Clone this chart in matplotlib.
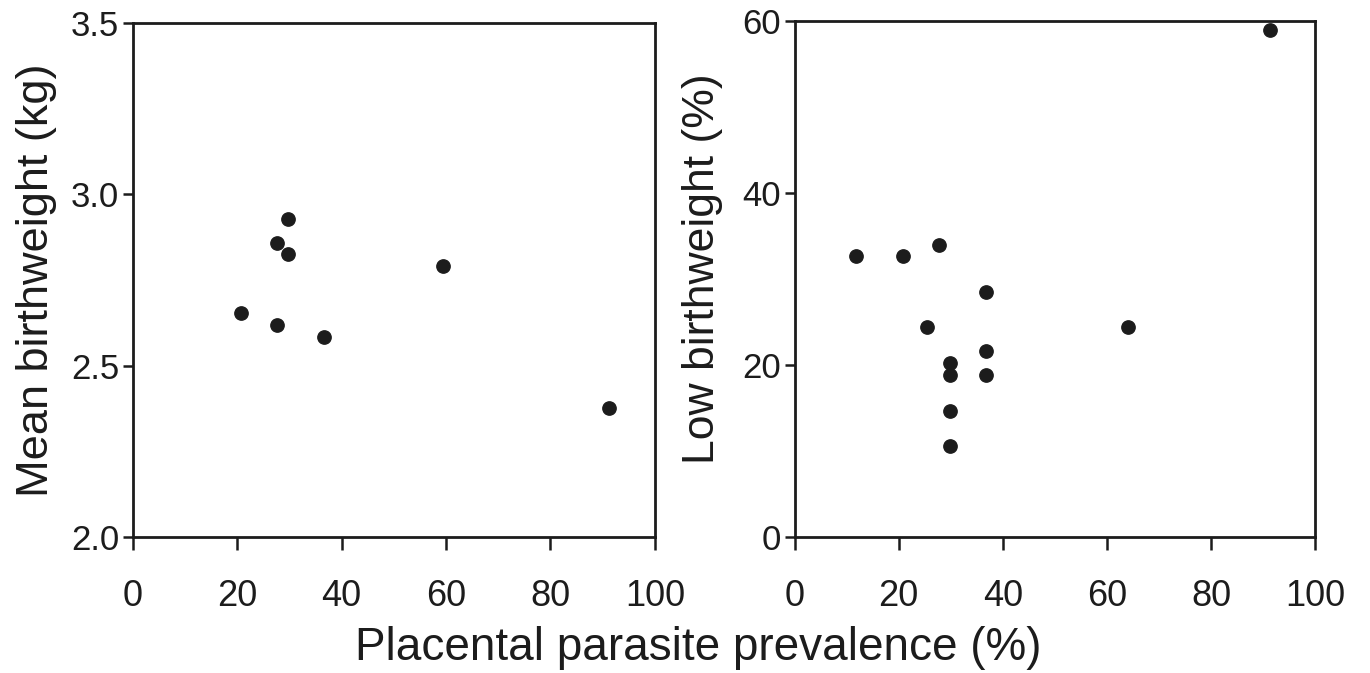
import numpy as np
import matplotlib
matplotlib.use('Agg')
import matplotlib.pyplot as plt

plt.rcParams['font.family'] = ['Liberation Sans', 'DejaVu Sans']

# Mean birthweight vs placental parasite prevalence
mean_prev = [20.7, 27.6, 29.8, 29.8, 27.6, 36.6, 59.4, 91.2]
mean_bw = [2.653, 2.859, 2.927, 2.825, 2.618, 2.584, 2.791, 2.377]

# Low birthweight vs placental parasite prevalence
low_prev = [11.7, 20.8, 27.7, 36.8, 25.4, 64.0, 36.8, 29.9, 29.9, 36.8, 29.9, 29.9, 91.3]
low_bw = [32.7, 32.7, 34.0, 28.5, 24.4, 24.4, 21.6, 20.2, 18.8, 18.8, 14.7, 10.6, 58.9]

x_ticks = [0, 20, 40, 60, 80, 100]
ink = '#1c1c1c'

fig = plt.figure(figsize=(13.7, 6.73), dpi=100)
ax1 = fig.add_axes([0.097, 0.202, 0.381, 0.764])
ax2 = fig.add_axes([0.580, 0.202, 0.380, 0.767])


def style(ax):
    for sp in ax.spines.values():
        sp.set_linewidth(2.0)
        sp.set_color(ink)
    ax.tick_params(axis='x', direction='out', length=9.5, width=1.8, pad=21,
                   labelsize=26, colors=ink)
    ax.tick_params(axis='y', direction='out', length=7, width=1.8, pad=3,
                   labelsize=25, colors=ink)
    ax.set_xlim(0, 100)
    ax.set_xticks(x_ticks)


ax1.scatter(mean_prev, mean_bw, s=92, color=ink, zorder=3, clip_on=False)
style(ax1)
ax1.set_ylim(2.0, 3.5)
ax1.set_yticks([2.0, 2.5, 3.0, 3.5])
ax1.set_yticklabels(['2.0', '2.5', '3.0', '3.5'])
ax1.set_ylabel('Mean birthweight (kg)', fontsize=32.5, color=ink, labelpad=10)

ax2.scatter(low_prev, low_bw, s=92, color=ink, zorder=3, clip_on=False)
style(ax2)
ax2.set_ylim(0, 60)
ax2.set_yticks([0, 20, 40, 60])
ax2.set_ylabel('Low birthweight (%)', fontsize=32, color=ink)
ax2.yaxis.set_label_coords(-0.138, 0.52)

fig.text(0.51, 0.037, 'Placental parasite prevalence (%)', fontsize=33,
         color=ink, ha='center', va='center')

fig.savefig('out.png', dpi=100, facecolor='white')
